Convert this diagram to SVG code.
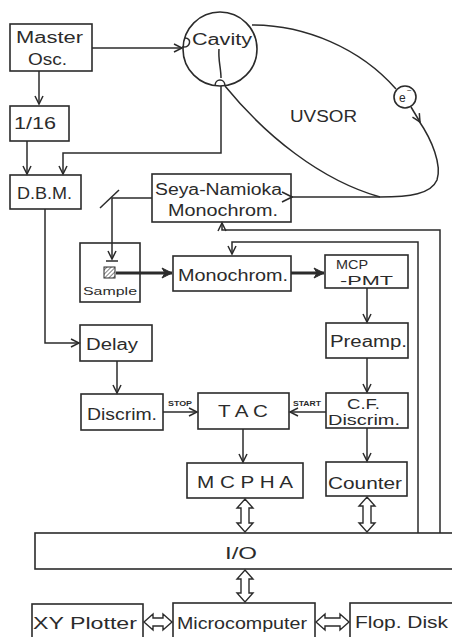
<svg xmlns="http://www.w3.org/2000/svg" width="452" height="637" viewBox="0 0 452 637">
<style>
.box{fill:none;stroke:#2b2b2b;stroke-width:1.6}
.ln{fill:none;stroke:#2b2b2b;stroke-width:1.5}
.thick{fill:none;stroke:#2b2b2b;stroke-width:3.2}
.dbl{fill:#fff;stroke:#2b2b2b;stroke-width:1.4;stroke-linejoin:miter}
text{font-family:"Liberation Sans","DejaVu Sans",sans-serif;font-size:16px;fill:#2b2b2b}
.small{font-size:11px}
.tag{font-size:7px;font-weight:bold}
</style>
<defs>
<marker id="ah" markerUnits="userSpaceOnUse" markerWidth="12" markerHeight="12" refX="9" refY="5" orient="auto">
<path d="M1,1 L9,5 L1,9" fill="none" stroke="#2b2b2b" stroke-width="1.5"/>
</marker>
<marker id="ahf" markerUnits="userSpaceOnUse" markerWidth="14" markerHeight="14" refX="11" refY="6" orient="auto">
<path d="M1,1 L11,6 L1,11 L4,6 Z" fill="#2b2b2b" stroke="#2b2b2b" stroke-width="1"/>
</marker>
<marker id="aho" markerUnits="userSpaceOnUse" markerWidth="14" markerHeight="14" refX="1" refY="6" orient="auto">
<path d="M11,1 L1,6 L11,11" fill="none" stroke="#2b2b2b" stroke-width="1.6"/>
</marker>
<pattern id="hatch" patternUnits="userSpaceOnUse" width="3" height="3" patternTransform="rotate(45)">
<line x1="0" y1="0" x2="0" y2="3" stroke="#2b2b2b" stroke-width="1.2"/>
</pattern>
</defs>

<g id="master"><rect class="box" x="10" y="24" width="82" height="47"/><text x="16" y="43" textLength="67" lengthAdjust="spacingAndGlyphs">Master</text><text x="28" y="65" textLength="39" lengthAdjust="spacingAndGlyphs">Osc.</text></g>
<g id="div16"><rect class="box" x="10" y="106" width="59" height="35"/><text x="14" y="129" textLength="42" lengthAdjust="spacingAndGlyphs">1/16</text></g>
<g id="cavity"><circle class="box" cx="220" cy="49" r="37"/><text x="192" y="45" textLength="60" lengthAdjust="spacingAndGlyphs">Cavity</text>
<path class="ln" d="M182,47 C191,48 192,38 185,38"/><path class="ln" d="M219,49 C218,60 221,68 221,78"/><path class="ln" d="M215,86 C215,78 225,78 225,86"/></g>
<g id="uvsor"><path class="ln" d="M252,25 C305,25 360,48 396,89"/><path class="ln" d="M225,86 C265,135 320,180 380,197"/><path class="ln" d="M419,121 C432,140 442,165 437,180 C431,194 410,197 380,197"/>
<text x="290" y="122" textLength="67" lengthAdjust="spacingAndGlyphs">UVSOR</text></g>
<g id="electron"><circle class="box" cx="405" cy="97" r="11"/><text x="399" y="102" style="font-size:12px">e</text><text x="407" y="93" style="font-size:8px">−</text></g>
<g id="dbm"><rect class="box" x="10" y="175" width="71" height="34"/><text x="17" y="199" textLength="55" lengthAdjust="spacingAndGlyphs">D.B.M.</text></g>
<g id="seya"><rect class="box" x="152" y="174" width="139" height="48"/><text x="155" y="195" textLength="127" lengthAdjust="spacingAndGlyphs">Seya-Namioka</text><text x="168" y="216" textLength="110" lengthAdjust="spacingAndGlyphs">Monochrom.</text></g>
<g id="sample"><rect class="box" x="80" y="243" width="60" height="59"/><rect x="104" y="267" width="11" height="11" fill="url(#hatch)" stroke="#2b2b2b" stroke-width="1"/><text class="small" x="83" y="295" textLength="54" lengthAdjust="spacingAndGlyphs">Sample</text></g>
<g id="mono"><rect class="box" x="173" y="256" width="118" height="35"/><text x="178" y="281" textLength="110" lengthAdjust="spacingAndGlyphs">Monochrom.</text></g>
<g id="mcppmt"><rect class="box" x="325" y="255" width="83" height="33"/><text x="336" y="269" textLength="32" lengthAdjust="spacingAndGlyphs" style="font-size:13px">MCP</text><text x="340" y="285" textLength="53" lengthAdjust="spacingAndGlyphs" style="font-size:13px">-PMT</text></g>
<g id="preamp"><rect class="box" x="326" y="323" width="82" height="35"/><text x="330" y="347" textLength="77" lengthAdjust="spacingAndGlyphs">Preamp.</text></g>
<g id="delay"><rect class="box" x="80" y="325" width="72" height="36"/><text x="86" y="350" textLength="52" lengthAdjust="spacingAndGlyphs">Delay</text></g>
<g id="discrim"><rect class="box" x="81" y="394" width="82" height="36"/><text x="87" y="420" textLength="70" lengthAdjust="spacingAndGlyphs">Discrim.</text></g>
<g id="tac"><rect class="box" x="198" y="393" width="91" height="36"/><text x="218" y="417" textLength="50" lengthAdjust="spacingAndGlyphs">T A C</text></g>
<g id="cfd"><rect class="box" x="326" y="393" width="82" height="35"/><text x="347" y="409" textLength="33" lengthAdjust="spacingAndGlyphs" style="font-size:14px">C.F.</text><text x="328" y="425" textLength="72" lengthAdjust="spacingAndGlyphs" style="font-size:14px">Discrim.</text></g>
<g id="mcpha"><rect class="box" x="187" y="463" width="116" height="35"/><text x="197" y="488" textLength="96" lengthAdjust="spacingAndGlyphs">M C P H A</text></g>
<g id="counter"><rect class="box" x="326" y="462" width="81" height="34"/><text x="328" y="489" textLength="74" lengthAdjust="spacingAndGlyphs">Counter</text></g>
<g id="io"><rect class="box" x="35" y="533" width="430" height="36"/><text x="225" y="559" textLength="32" lengthAdjust="spacingAndGlyphs">I/O</text></g>
<g id="xyplotter"><rect class="box" x="32" y="604" width="111" height="40"/><text x="33" y="629" textLength="104" lengthAdjust="spacingAndGlyphs">XY Plotter</text></g>
<g id="micro"><rect class="box" x="173" y="603" width="142" height="40"/><text x="177" y="629" textLength="130" lengthAdjust="spacingAndGlyphs">Microcomputer</text></g>
<g id="flop"><rect class="box" x="350" y="603" width="110" height="40"/><text x="355" y="628" textLength="93" lengthAdjust="spacingAndGlyphs">Flop. Disk</text></g>

<g id="connectors">
<path class="ln" d="M92,48 L182,48" marker-end="url(#ah)"/>
<path class="ln" d="M39,71 L39,104" marker-end="url(#ah)"/>
<path class="ln" d="M27,141 L27,174" marker-end="url(#ah)"/>
<path class="ln" d="M221,86 L221,153 L63,153 L63,174" marker-end="url(#ah)"/>
<path class="ln" d="M411,107 L420,122" marker-end="url(#ah)"/>
<path class="ln" d="M380,197 L292,197" stroke-width="2.2" marker-end="url(#aho)"/>
<path class="ln" d="M152,198 L112,198 L112,259" marker-end="url(#ah)"/>
<path class="ln" d="M100,208 L119,190"/>
<path class="ln" d="M106,261 L118,261"/>
<path class="thick" d="M116,273 L172,273" marker-end="url(#ahf)"/>
<path class="thick" d="M291,273 L324,273" marker-end="url(#ahf)"/>
<path class="ln" d="M440,533 L440,230 L222,230 L222,223" marker-end="url(#ah)"/>
<path class="ln" d="M418,533 L418,242 L232,242 L232,254" marker-end="url(#ah)"/>
<path class="ln" d="M367,288 L367,322" marker-end="url(#ah)"/>
<path class="ln" d="M367,358 L367,392" marker-end="url(#ah)"/>
<path class="ln" d="M45,209 L45,343 L79,343" marker-end="url(#ah)"/>
<path class="ln" d="M117,361 L117,393" marker-end="url(#ah)"/>
<path class="ln" d="M163,412 L197,412" marker-end="url(#ah)"/>
<path class="ln" d="M326,412 L290,412" marker-end="url(#ah)"/>
<text class="tag" x="168" y="406" textLength="24" lengthAdjust="spacingAndGlyphs">STOP</text>
<text class="tag" x="293" y="406" textLength="28" lengthAdjust="spacingAndGlyphs">START</text>
<path class="ln" d="M243,429 L243,462" marker-end="url(#ah)"/>
<path class="ln" d="M367,428 L367,461" marker-end="url(#ah)"/>
<path class="dbl" d="M245,499 L253,508 L249,508 L249,523 L253,523 L245,532 L237,523 L241,523 L241,508 L237,508 Z"/>
<path class="dbl" d="M367,497 L375,506 L371,506 L371,523 L375,523 L367,532 L359,523 L363,523 L363,506 L359,506 Z"/>
<path class="dbl" d="M245,570 L253,579 L249,579 L249,593 L253,593 L245,602 L237,593 L241,593 L241,579 L237,579 Z"/>
<path class="dbl" d="M144,622 L153,614 L153,618 L163,618 L163,614 L172,622 L163,630 L163,626 L153,626 L153,630 Z"/>
<path class="dbl" d="M316,622 L325,614 L325,618 L340,618 L340,614 L349,622 L340,630 L340,626 L325,626 L325,630 Z"/>
</g>
</svg>
